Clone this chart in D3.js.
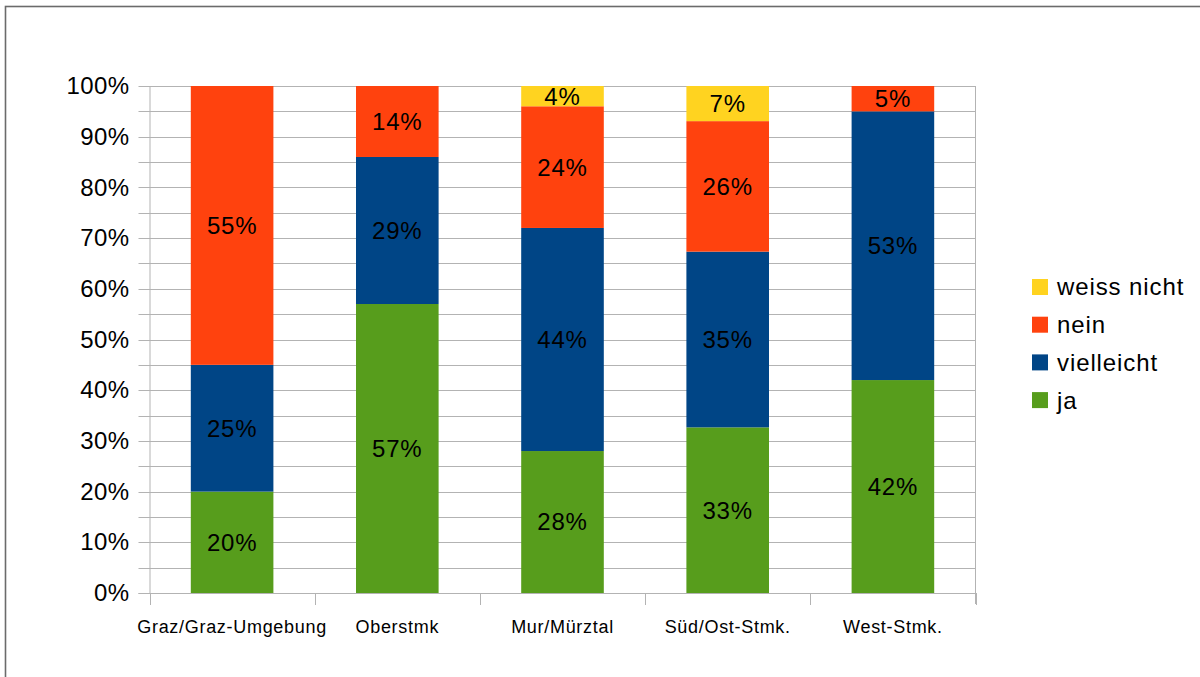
<!DOCTYPE html>
<html>
<head>
<meta charset="utf-8">
<script src="https://cdn.jsdelivr.net/npm/d3@7"></script>
<style>
  html, body { margin: 0; padding: 0; background: #fff; }
  svg { display: block; font-family: "Liberation Sans", Arial, sans-serif; }
</style>
</head>
<body>
<svg id="chart" width="1200" height="677"></svg>
<script>
// Regions and answer counts (percent of respondents per region)
const regions = ["Graz/Graz-Umgebung", "Oberstmk", "Mur/Mürztal", "Süd/Ost-Stmk.", "West-Stmk."];
const ja = [20, 57, 28, 33, 42];
const vielleicht = [25, 29, 44, 35, 53];
const nein = [55, 14, 24, 26, 5];
const weissNicht = [0, 0, 4, 7, 0];

// Stacking order, bottom to top
const seriesNames = ["ja", "vielleicht", "nein", "weiss nicht"];
const seriesColors = ["#579D1C", "#004586", "#FF420E", "#FFD320"];
const yTicks = [0, 0.1, 0.2, 0.3, 0.4, 0.5, 0.6, 0.7, 0.8, 0.9, 1.0];
const yGrid = d3.range(0, 21).map(i => i / 20);

const rows = regions.map((r, i) => ({
  region: r,
  "ja": ja[i],
  "vielleicht": vielleicht[i],
  "nein": nein[i],
  "weiss nicht": weissNicht[i]
}));

const svg = d3.select("#chart");

// Outer frame
svg.append("rect")
  .attr("x", 5.5).attr("y", 6.5)
  .attr("width", 1210).attr("height", 690)
  .attr("fill", "none").attr("stroke", "#6b6b6b").attr("stroke-width", 1.6);

const plot = { left: 149.5, right: 975.5, top: 86, bottom: 593 };

const x = d3.scaleBand()
  .domain(regions)
  .range([plot.left, plot.right])
  .paddingInner(0.5)
  .paddingOuter(0.25);

const y = d3.scaleLinear().domain([0, 1]).range([plot.bottom, plot.top]);

const color = d3.scaleOrdinal().domain(seriesNames).range(seriesColors);

const stacked = d3.stack().keys(seriesNames).offset(d3.stackOffsetExpand)(rows);

// Horizontal grid lines at every 5 %
svg.append("g")
  .selectAll("line")
  .data(yGrid)
  .join("line")
  .attr("x1", plot.left - 11).attr("x2", plot.right)
  .attr("y1", d => Math.round(y(d)) + 0.5).attr("y2", d => Math.round(y(d)) + 0.5)
  .attr("stroke", "#b3b3b3").attr("stroke-width", 1);

// Right border of plot area
svg.append("line")
  .attr("x1", plot.right).attr("x2", plot.right)
  .attr("y1", plot.top).attr("y2", plot.bottom + 11)
  .attr("stroke", "#b3b3b3");

// Y axis
const yAxis = d3.axisLeft(y)
  .tickValues(yTicks)
  .tickFormat(d3.format(".0%"))
  .tickSize(0)
  .tickPadding(20);
const gy = svg.append("g")
  .attr("transform", `translate(${plot.left},0)`)
  .call(yAxis);
gy.select(".domain").attr("stroke", "#b3b3b3");
gy.selectAll("text")
  .attr("font-size", 24).attr("fill", "#000")
  .attr("font-family", "Liberation Sans, Arial, sans-serif")
  .attr("letter-spacing", "0.4px");

// X axis: ticks sit at band boundaries
const gx = svg.append("g")
  .attr("transform", `translate(0,${plot.bottom})`);
gx.append("line")
  .attr("x1", plot.left - 11).attr("x2", plot.right)
  .attr("y1", 0.5).attr("y2", 0.5)
  .attr("stroke", "#b3b3b3");
const bounds = regions.map(r => x(r) - x.step() * x.paddingInner() / 2 - 0.0);
const edges = regions.map((r, i) => plot.left + i * x.step()).concat([plot.right]);
gx.selectAll("line.tick")
  .data(edges)
  .join("line")
  .attr("class", "tick")
  .attr("x1", d => Math.round(d) + 0.5).attr("x2", d => Math.round(d) + 0.5)
  .attr("y1", 0).attr("y2", 12)
  .attr("stroke", "#b3b3b3");
gx.selectAll("text")
  .data(regions)
  .join("text")
  .attr("x", d => x(d) + x.bandwidth() / 2)
  .attr("y", 40)
  .attr("text-anchor", "middle")
  .attr("font-size", 18)
  .attr("letter-spacing", "0.7px")
  .attr("fill", "#000")
  .text(d => d);

// Stacked bars
const layers = svg.append("g")
  .selectAll("g")
  .data(stacked)
  .join("g")
  .attr("fill", d => color(d.key));

layers.selectAll("rect")
  .data(d => d.filter(s => s[1] - s[0] > 0))
  .join("rect")
  .attr("x", d => x(d.data.region))
  .attr("width", x.bandwidth())
  .attr("y", d => y(d[1]))
  .attr("height", d => y(d[0]) - y(d[1]));

// Value labels centred in each segment
const labels = svg.append("g");
stacked.forEach(layer => {
  layer.forEach(s => {
    const v = s.data[layer.key];
    if (v > 0) {
      labels.append("text")
        .attr("x", x(s.data.region) + x.bandwidth() / 2)
        .attr("y", y((s[0] + s[1]) / 2))
        .attr("dy", "0.35em")
        .attr("text-anchor", "middle")
        .attr("font-size", 24)
        .attr("letter-spacing", "0.8px")
        .attr("fill", "#000")
        .text(v + "%");
    }
  });
});

// Legend (top to bottom: reverse stacking order)
const legendItems = seriesNames.slice().reverse();
const legend = svg.append("g").attr("transform", "translate(1032,279)");
const li = legend.selectAll("g")
  .data(legendItems)
  .join("g")
  .attr("transform", (d, i) => `translate(0,${i * 37.7})`);
li.append("rect")
  .attr("width", 16).attr("height", 16)
  .attr("fill", d => color(d));
li.append("text")
  .attr("x", 25).attr("y", 8)
  .attr("dy", "0.35em")
  .attr("font-size", 24)
  .attr("letter-spacing", "0.9px")
  .attr("fill", "#000")
  .text(d => d);
</script>
</body>
</html>
